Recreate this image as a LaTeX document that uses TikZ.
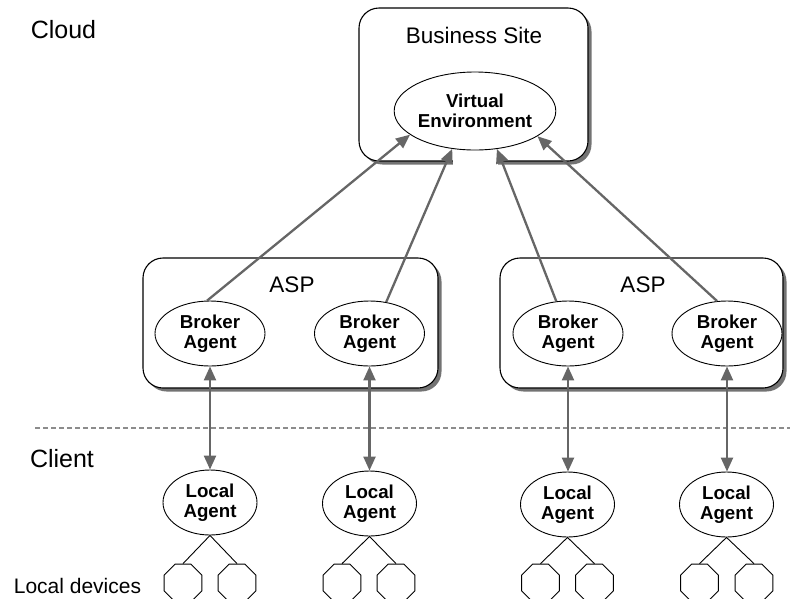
\documentclass[tikz,border=0pt]{standalone}
\usepackage{fontspec}
\setmainfont{Liberation Sans}
\usetikzlibrary{shapes.geometric,shadows,arrows.meta}
\begin{document}
\begin{tikzpicture}[x=1pt,y=-1pt,
  box/.style={draw=black, line width=1.1pt, rounded corners=20pt, fill=white, inner sep=0pt,
    drop shadow={shadow xshift=3.5pt, shadow yshift=-3.5pt, fill=black!55, opacity=1}},
  agent/.style={ellipse, draw=black, line width=0.9pt, fill=white, inner sep=0pt, align=center,
    font=\fontsize{18.7}{20.5}\selectfont\bfseries},
  broker/.style={agent, minimum width=110pt, minimum height=65pt},
  local/.style={agent, minimum width=94pt, minimum height=65pt},
  dev/.style={regular polygon, regular polygon sides=8, draw=black, line width=0.9pt,
    minimum size=41pt, inner sep=0pt},
  conn/.style={draw=black!60, line width=2.3pt, -{Triangle[length=14pt,width=12pt]}},
  link/.style={draw=black!60, line width=2.3pt,
    {Triangle[length=14pt,width=12pt]}-{Triangle[length=14pt,width=12pt]}},
  tree/.style={draw=black, line width=0.9pt},
  big/.style={font=\fontsize{25}{30}\selectfont, anchor=base, inner sep=0pt},
  boxlab/.style={font=\fontsize{22.5}{27}\selectfont, anchor=base, inner sep=0pt}]
\useasboundingbox (0,0) rectangle (790,598);
\clip (0,0) rectangle (790,598);

% boxes
\node[box, minimum width=229pt, minimum height=153pt] (bs) at (473.5,84.5) {};
\node[box, minimum width=295pt, minimum height=130pt] (asp1) at (290.5,323) {};
\node[box, minimum width=283pt, minimum height=130pt] (asp2) at (641.5,323) {};
\fill[white] (453,151) rectangle (498,167);

\node[boxlab] (bslab) at (474,43) {Business Site};
\node[boxlab] (asplab1) at (292,292) {ASP};
\node[boxlab] (asplab2) at (643,292) {ASP};

\node[big] (cloud) at (63.5,38) {Cloud};
\node[big] (client) at (62,467) {Client};
\node[font=\fontsize{21}{25}\selectfont, anchor=base, inner sep=0pt] (devlab) at (77.5,593) {Local devices};

% separator
\coordinate (sepL) at (35,428);
\coordinate (sepR) at (790,428);
\draw[black!45, line width=1.5pt, dash pattern=on 5pt off 3pt] (sepL) -- (sepR);

% ellipses
\node[agent, minimum width=160pt, minimum height=78pt] (ve) at (475,111) {Virtual\\Environment};
\node[broker] (b1) at (210,333.5) {Broker\\Agent};
\node[broker] (b2) at (369.5,333.5) {Broker\\Agent};
\node[broker] (b3) at (568,333.5) {Broker\\Agent};
\node[broker] (b4) at (727,333.5) {Broker\\Agent};

\node[local] (l1) at (210,502.5) {Local\\Agent};
\node[local] (l2) at (369.5,503.5) {Local\\Agent};
\node[local] (l3) at (567.5,504.5) {Local\\Agent};
\node[local] (l4) at (726.5,504.5) {Local\\Agent};

% devices
\node[dev] (d1a) at (183,583) {};
\node[dev] (d1b) at (237,583) {};
\node[dev] (d2a) at (342,583) {};
\node[dev] (d2b) at (396,583) {};
\node[dev] (d3a) at (540.5,583) {};
\node[dev] (d3b) at (594.5,583) {};
\node[dev] (d4a) at (699.5,583) {};
\node[dev] (d4b) at (754,583) {};

\draw[tree] (l1.south) -- (d1a.north) (l1.south) -- (d1b.north);
\draw[tree] (l2.south) -- (d2a.north) (l2.south) -- (d2b.north);
\draw[tree] (l3.south) -- (d3a.north) (l3.south) -- (d3b.north);
\draw[tree] (l4.south) -- (d4a.north) (l4.south) -- (d4b.north);

% connectors to the virtual environment
\draw[conn] (b1.95) -- (ve.200);
\draw[conn] (b2.62) -- (ve.239);
\draw[conn] (b3.110) -- (ve.300);
\draw[conn] (b4.107) -- (ve.338);

% broker <-> local links
\draw[link] (b1.south) -- (b1.south |- l1.north);
\draw[link] (b2.south) -- (b2.south |- l2.north);
\draw[link] (b3.south) -- (b3.south |- l3.north);
\draw[link] (b4.south) -- (b4.south |- l4.north);
\end{tikzpicture}
\end{document}
